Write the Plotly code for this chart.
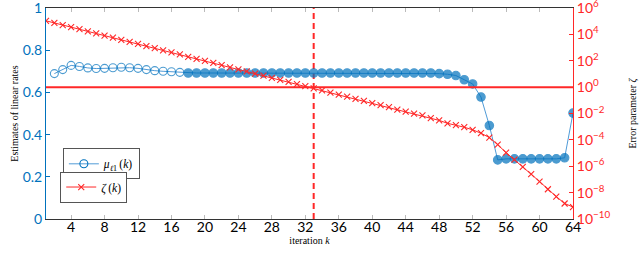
import plotly.graph_objects as go

# ---- data ----
k_mu = list(range(2, 65))
mu_vals = [0.689, 0.708, 0.728, 0.723, 0.716, 0.713, 0.714, 0.717, 0.719, 0.717,
           0.714, 0.708, 0.703, 0.700, 0.698, 0.695] + [0.692] * 30 + \
          [0.689, 0.686, 0.680, 0.660, 0.640, 0.578, 0.443, 0.280,
           0.285, 0.285, 0.285, 0.285, 0.285, 0.285, 0.285, 0.290, 0.502]
mu_hollow_until = 17  # iterations up to this are hollow markers

k_zeta = list(range(1, 65))
zeta_vals = [1.07e5, 7.4e4, 5.1e4, 3.5e4, 2.5e4, 1.7e4, 1.2e4, 8.1e3, 5.6e3, 3.9e3,
             2.7e3, 1.9e3, 1.3e3, 8.9e2, 6.2e2, 4.3e2, 3.0e2, 2.0e2, 1.4e2, 98,
             68, 47, 32, 22, 15.5, 10.7, 7.4, 5.1, 3.5, 2.5,
             1.7, 1.17, 0.81, 0.56, 0.39, 0.27, 0.19, 0.13, 0.089, 0.062,
             0.043, 0.030, 0.020, 0.014, 0.0098, 7.1e-3, 4.4e-3, 3.0e-3, 1.8e-3, 1.3e-3,
             9.1e-4, 5.8e-4, 3.2e-4, 1.5e-4, 4.4e-5, 1.07e-5, 3.2e-6, 9.1e-7, 2.5e-7, 6.9e-8,
             1.8e-8, 5.0e-9, 1.5e-9, 8.1e-10]

x_ticks = list(range(4, 65, 4))
y_ticks = [0, 0.2, 0.4, 0.6, 0.8, 1]
y_tick_text = ["0", "0.2", "0.4", "0.6", "0.8", "1"]
y2_exps = [-10, -8, -6, -4, -2, 0, 2, 4, 6]
vline_k = 33
hline_zeta = 1

BLUE = "rgb(0,114,189)"
LBLUE = "rgb(80,155,215)"
RED = "rgb(255,40,40)"

y2_vals = [10.0 ** e for e in y2_exps]
y2_text = ["10<sup>%s</sup>" % (str(e).replace("-", "−")) for e in y2_exps]

symbols = ["circle-open" if k <= mu_hollow_until else "circle" for k in k_mu]
sizes = [8 if k <= mu_hollow_until else 8.5 for k in k_mu]

fig = go.Figure()
fig.add_trace(go.Scatter(x=[1, 64], y=[hline_zeta, hline_zeta], yaxis="y2", mode="lines",
                         line=dict(color=RED, width=2), showlegend=False, hoverinfo="skip"))
fig.add_trace(go.Scatter(x=[vline_k, vline_k], y=[0, 1], mode="lines",
                         line=dict(color=RED, width=2, dash="6px,4px"), showlegend=False))

fig.add_trace(go.Scatter(x=k_zeta, y=zeta_vals, yaxis="y2", mode="lines+markers",
                         line=dict(color=RED, width=1),
                         marker=dict(symbol="x-thin", size=6, line=dict(color=RED, width=1.1)),
                         showlegend=False))
fig.add_trace(go.Scatter(x=k_mu, y=mu_vals, mode="lines+markers",
                         line=dict(color=LBLUE, width=1),
                         marker=dict(symbol=symbols, size=sizes, color=BLUE,
                                     line=dict(color=BLUE, width=1.1)),
                         showlegend=False))

# legend entries
fig.add_trace(go.Scatter(x=[None], y=[None], mode="lines+markers",
                         name="<i>μ</i><sub><i>ℓ</i>1</sub>\u2009(<i>k</i>)",
                         line=dict(color=LBLUE, width=1),
                         marker=dict(symbol="circle-open", size=8, color=BLUE, line=dict(color=BLUE, width=1.1)),
                         legend="legend"))
fig.add_trace(go.Scatter(x=[None], y=[None], mode="lines+markers", name="<i>ζ</i>\u2009(<i>k</i>)",
                         line=dict(color=RED, width=1),
                         marker=dict(symbol="x-thin", size=6, line=dict(color=RED, width=1.1)),
                         legend="legend2"))

TICKFONT = "Lato"
LEGFONT = dict(family="Liberation Serif", size=11.5, color="black")
fig.update_layout(
    width=640, height=255,
    margin=dict(l=46, r=67, t=8, b=36),
    paper_bgcolor="white", plot_bgcolor="white",
    xaxis=dict(range=[1, 64], tickvals=x_ticks, ticks="inside", ticklen=4, tickcolor="#bbb",
               showline=True, linecolor="#333", linewidth=1, mirror="ticks", showgrid=False,
               zeroline=False, tickfont=dict(family=TICKFONT, size=14, color="black"),
               ticklabelstandoff=-5, ticklabeloverflow="allow", automargin=False,
               title=dict(text="iteration <i>k</i>", font=dict(family="Liberation Serif", size=10, color="black"),
                          standoff=3)),
    yaxis=dict(range=[0, 1], tickvals=y_ticks, ticktext=y_tick_text, ticks="inside", ticklen=4,
               tickcolor=BLUE, showline=True, linecolor=BLUE, linewidth=1, showgrid=False, zeroline=False,
               tickfont=dict(family=TICKFONT, size=14, color=BLUE), ticklabeloverflow="allow", automargin=False,
               title=dict(text="Estimates of linear rates", font=dict(family="Liberation Serif", size=10, color="black"),
                          standoff=2)),
    yaxis2=dict(type="log", range=[-10, 6], overlaying="y", side="right", tickvals=y2_vals, ticktext=y2_text,
                ticks="inside", ticklen=4, tickcolor=RED, showline=True, linecolor=RED, linewidth=1,
                showgrid=False, zeroline=False, tickfont=dict(family=TICKFONT, size=14, color=RED),
                ticklabeloverflow="allow", automargin=False,
                title=dict(text="Error parameter <i>ζ</i>", font=dict(family="Liberation Serif", size=10, color="black"),
                           standoff=19)),
    legend=dict(x=0.032, y=0.335, xanchor="left", yanchor="top", bgcolor="white",
                bordercolor="#555", borderwidth=1, font=LEGFONT, itemwidth=30, tracegroupgap=0),
    legend2=dict(x=0.027, y=0.225, xanchor="left", yanchor="top", bgcolor="white",
                 bordercolor="#555", borderwidth=1, font=LEGFONT, itemwidth=30, tracegroupgap=0),
)

fig.write_html("out.html", config={"displayModeBar": False},
               post_script="document.body.style.margin='0';")
